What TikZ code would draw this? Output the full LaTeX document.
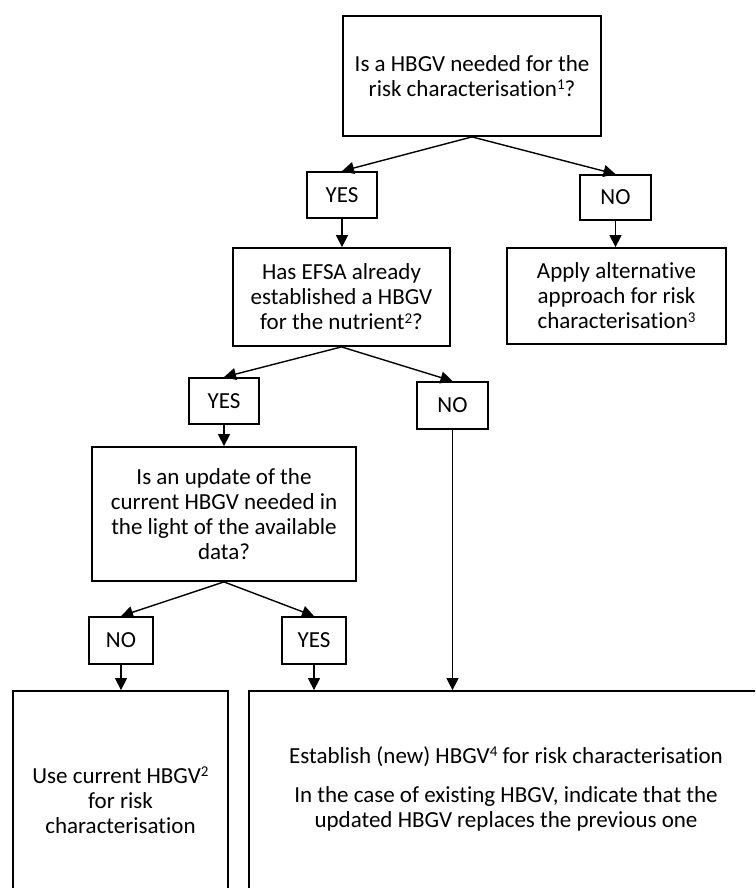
\documentclass[tikz,border=0pt]{standalone}
\usepackage{fontspec}
\setmainfont{Carlito}[Ligatures=NoCommon]
\usetikzlibrary{arrows.meta}
\newcommand{\supnum}[1]{\raisebox{0.3em}{\fontsize{15}{15}\selectfont #1}}
\begin{document}
\begin{tikzpicture}[x=1pt,y=-1pt,
  box/.style={draw, line width=1.8pt, align=center, inner sep=0pt, font=\fontsize{23}{25}\selectfont},
  txt/.style={align=center, inner sep=0pt, font=\fontsize{23}{25}\selectfont},
  arr/.style={line width=1.4pt, -{Triangle[length=12pt,width=12pt]}}]
\useasboundingbox (0,0) rectangle (755,888);
\clip (0,0) rectangle (755,888);
% question and answer boxes
\node[box, minimum width=258pt, minimum height=120pt] (q1) at (472,76) {Is a HBGV needed for the\\risk characterisation\supnum{1}?};
\node[box, minimum width=70pt, minimum height=46pt] (yes1) at (342,195) {YES};
\node[box, minimum width=71pt, minimum height=45pt] (no1) at (615.5,197.5) {NO};
\node[box, minimum width=217pt, minimum height=98pt] (efsa) at (341.5,297) {Has EFSA already\\established a HBGV\\for the nutrient\supnum{2}?};
\node[box, minimum width=219pt, minimum height=96pt] (apply) at (616.5,296) {Apply alternative\\approach for risk\\characterisation\supnum{3}};
\node[box, minimum width=70pt, minimum height=46pt] (yes2) at (224,401) {YES};
\node[box, minimum width=71pt, minimum height=47pt] (no2) at (452.5,405.5) {NO};
\node[box, minimum width=264pt, minimum height=134pt] (upd) at (224,514) {Is an update of the\\current HBGV needed in\\the light of the available\\data?};
\node[box, minimum width=64pt, minimum height=47pt] (no3) at (121,640.5) {NO};
\node[box, minimum width=64pt, minimum height=47pt] (yes3) at (314,640.5) {YES};
% bottom boxes (cut by the page edge)
\node[box, minimum width=215pt, minimum height=309pt] (bl) at (120.5,845.5) {};
\node[box, minimum width=516pt, minimum height=309pt] (br) at (507,845.5) {};
\node[txt] (tbl) at (120.5,800) {Use current HBGV\supnum{2}\\for risk\\characterisation};
\node[txt] (tbr1) at (506,757) {Establish (new) HBGV\supnum{4} for risk characterisation};
\node[txt] (tbr2) at (506,809) {In the case of existing HBGV, indicate that the\\updated HBGV replaces the previous one};
% connectors
\draw[arr] (q1.south) -- (yes1.north);
\draw[arr] (q1.south) -- (no1.north);
\draw[arr] (yes1.south) -- (efsa.north -| yes1.south);
\draw[arr] (no1.south) -- (apply.north -| no1.south);
\draw[arr] (efsa.south) -- (yes2.north);
\draw[arr] (efsa.south) -- (no2.north);
\draw[arr] (yes2.south) -- (upd.north -| yes2.south);
\draw[arr] (upd.south) -- (no3.north);
\draw[arr] (upd.south) -- (yes3.north);
\draw[arr] (no3.south) -- (bl.north -| no3.south);
\draw[arr] (yes3.south) -- (br.north -| yes3.south);
\draw[arr] (no2.south) -- (br.north -| no2.south);
\end{tikzpicture}
\end{document}
